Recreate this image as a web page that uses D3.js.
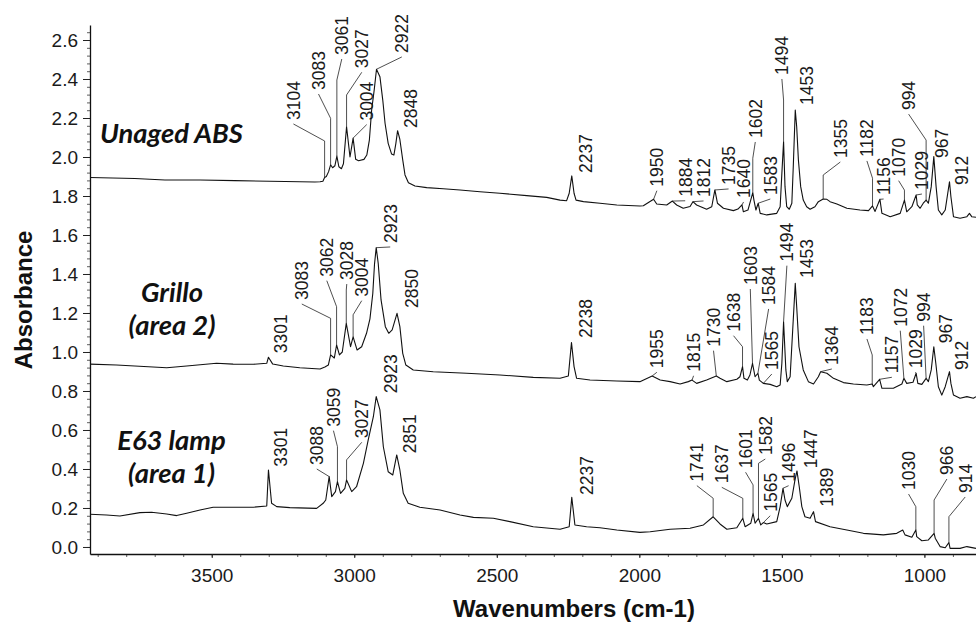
<!DOCTYPE html>
<html><head><meta charset="utf-8">
<script src="https://cdn.jsdelivr.net/npm/d3@7"></script>
<style>
html,body{margin:0;padding:0;background:#fff;}
svg{display:block;}
</style></head><body>
<svg id="chart" width="976" height="626"></svg>
<script>
// ---- Axis ticks ----
const wavenumberTicks = [3500, 3000, 2500, 2000, 1500, 1000];
const absorbanceTicks = [0.0, 0.2, 0.4, 0.6, 0.8, 1.0, 1.2, 1.4, 1.6, 1.8, 2.0, 2.2, 2.4, 2.6];

// ---- Spectra: [wavenumber (cm-1), absorbance] ----
const unagedABS = [[3927,1.895],[3770,1.890],[3664,1.882],[3541,1.882],[3419,1.879],[3243,1.874],[3138,1.872],[3120,1.873],[3110,1.876],[3104,1.895],[3098,1.900],[3090,1.925],[3083,1.960],[3076,1.945],[3068,1.955],[3061,2.005],[3054,1.950],[3045,1.940],[3038,1.965],[3027,2.155],[3015,2.000],[3004,2.097],[2995,1.988],[2985,1.981],[2966,1.988],[2956,2.010],[2947,2.087],[2939,2.241],[2930,2.344],[2922,2.450],[2910,2.412],[2900,2.292],[2892,2.173],[2881,2.070],[2869,2.015],[2861,2.010],[2854,2.070],[2848,2.135],[2840,2.090],[2830,1.985],[2822,1.908],[2810,1.868],[2787,1.851],[2746,1.843],[2688,1.837],[2629,1.831],[2559,1.822],[2489,1.814],[2395,1.802],[2325,1.793],[2278,1.779],[2255,1.776],[2246,1.814],[2237,1.903],[2229,1.814],[2222,1.779],[2196,1.771],[2138,1.763],[2079,1.754],[1998,1.749],[1986,1.750],[1950,1.783],[1939,1.759],[1904,1.754],[1884,1.774],[1869,1.754],[1846,1.737],[1822,1.746],[1812,1.771],[1799,1.754],[1764,1.732],[1746,1.745],[1735,1.831],[1726,1.763],[1705,1.737],[1670,1.725],[1654,1.733],[1640,1.754],[1635,1.719],[1619,1.728],[1602,1.817],[1598,1.779],[1591,1.728],[1583,1.763],[1576,1.711],[1553,1.703],[1518,1.711],[1506,1.745],[1500,1.916],[1494,2.078],[1489,1.848],[1483,1.745],[1474,1.732],[1465,1.763],[1460,1.950],[1453,2.241],[1448,2.155],[1442,1.985],[1434,1.848],[1425,1.779],[1413,1.745],[1401,1.732],[1384,1.745],[1372,1.771],[1355,1.785],[1342,1.783],[1331,1.771],[1307,1.759],[1272,1.737],[1226,1.728],[1196,1.725],[1182,1.749],[1173,1.721],[1156,1.783],[1149,1.711],[1120,1.694],[1085,1.711],[1070,1.779],[1062,1.719],[1044,1.745],[1029,1.805],[1025,1.754],[1015,1.737],[1004,1.763],[994,1.779],[986,1.763],[976,1.848],[967,2.002],[959,1.848],[951,1.728],[939,1.703],[927,1.728],[912,1.873],[907,1.796],[898,1.694],[875,1.686],[851,1.694],[842,1.711],[834,1.694],[819,1.691]];

const grilloArea2 = [[3927,0.938],[3834,0.933],[3658,0.919],[3588,0.928],[3483,0.942],[3425,0.938],[3354,0.937],[3307,0.942],[3301,0.973],[3286,0.938],[3249,0.928],[3191,0.919],[3120,0.913],[3103,0.923],[3091,0.933],[3083,0.985],[3070,0.969],[3062,1.036],[3052,0.985],[3042,1.000],[3028,1.147],[3013,1.027],[3004,1.078],[2990,1.010],[2974,1.027],[2957,1.096],[2945,1.170],[2935,1.300],[2929,1.450],[2923,1.535],[2916,1.455],[2906,1.267],[2891,1.130],[2879,1.096],[2867,1.113],[2850,1.198],[2840,1.130],[2830,0.993],[2819,0.933],[2793,0.908],[2723,0.899],[2606,0.891],[2489,0.882],[2372,0.870],[2278,0.865],[2249,0.877],[2238,1.048],[2229,0.925],[2220,0.865],[2173,0.856],[2079,0.851],[1998,0.848],[1955,0.877],[1927,0.856],[1892,0.848],[1857,0.836],[1828,0.848],[1815,0.856],[1799,0.839],[1764,0.856],[1730,0.877],[1717,0.865],[1693,0.848],[1658,0.860],[1647,0.873],[1638,0.925],[1633,0.865],[1621,0.856],[1612,0.882],[1603,0.942],[1594,0.873],[1584,0.891],[1579,0.856],[1565,0.839],[1541,0.834],[1518,0.822],[1506,0.831],[1500,0.942],[1494,1.155],[1486,0.908],[1481,0.848],[1471,0.873],[1462,1.113],[1453,1.352],[1448,1.232],[1440,1.027],[1425,0.908],[1407,0.848],[1389,0.836],[1372,0.873],[1364,0.899],[1342,0.891],[1319,0.865],[1284,0.843],[1249,0.836],[1202,0.831],[1183,0.836],[1179,0.822],[1157,0.860],[1149,0.814],[1109,0.814],[1079,0.836],[1072,0.865],[1062,0.839],[1040,0.845],[1029,0.891],[1023,0.839],[1009,0.834],[994,0.865],[986,0.848],[976,0.908],[967,1.027],[960,0.942],[951,0.822],[939,0.779],[927,0.822],[912,0.899],[907,0.839],[898,0.779],[875,0.763],[851,0.771],[828,0.763],[819,0.771]];

const e63LampArea1 = [[3927,0.168],[3869,0.164],[3822,0.159],[3752,0.176],[3711,0.178],[3658,0.169],[3623,0.161],[3588,0.173],[3541,0.190],[3495,0.204],[3425,0.204],[3354,0.204],[3307,0.210],[3301,0.395],[3290,0.224],[3272,0.207],[3226,0.202],[3132,0.198],[3109,0.224],[3100,0.241],[3088,0.361],[3079,0.258],[3066,0.284],[3059,0.335],[3048,0.275],[3033,0.301],[3027,0.344],[3009,0.284],[2992,0.309],[2968,0.429],[2951,0.549],[2933,0.668],[2923,0.771],[2910,0.703],[2898,0.514],[2881,0.386],[2865,0.369],[2851,0.472],[2840,0.395],[2828,0.275],[2811,0.224],[2770,0.204],[2699,0.190],[2629,0.164],[2582,0.152],[2512,0.147],[2454,0.130],[2372,0.104],[2278,0.091],[2246,0.104],[2237,0.255],[2226,0.113],[2185,0.104],[2138,0.099],[2079,0.087],[1998,0.075],[1962,0.078],[1892,0.091],[1822,0.096],[1775,0.113],[1741,0.155],[1717,0.118],[1693,0.091],[1658,0.099],[1637,0.147],[1629,0.104],[1609,0.122],[1601,0.173],[1594,0.122],[1582,0.147],[1574,0.113],[1565,0.125],[1553,0.118],[1518,0.130],[1506,0.207],[1496,0.301],[1489,0.241],[1481,0.207],[1465,0.250],[1454,0.344],[1447,0.390],[1439,0.309],[1430,0.207],[1419,0.155],[1401,0.147],[1389,0.181],[1382,0.130],[1331,0.104],[1272,0.087],[1214,0.070],[1144,0.062],[1097,0.070],[1076,0.087],[1068,0.062],[1044,0.050],[1030,0.087],[1027,0.053],[1009,0.032],[986,0.036],[966,0.070],[962,0.045],[945,0.002],[927,-0.004],[914,0.022],[910,-0.007],[875,-0.007],[851,0.002],[819,-0.007]];

// ---- Labelled peak positions (cm-1) ----
const unagedPeaks = [3104,3083,3061,3027,3004,2922,2848,2237,1950,1884,1812,1735,1640,1602,1583,1494,1453,1355,1182,1156,1070,1029,994,967,912];
const grilloPeaks = [3301,3083,3062,3028,3004,2923,2850,2238,1955,1815,1730,1638,1603,1584,1565,1494,1453,1364,1183,1157,1072,1029,994,967,912];
const e63Peaks = [3301,3088,3059,3027,2923,2851,2237,1741,1637,1601,1582,1565,1496,1447,1389,1030,966,914];

const sampleNames = [["Unaged ABS"], ["Grillo", "(area 2)"], ["E63 lamp", "(area 1)"]];

// ---- Peak-label layout: [text dx, text dy, leader kind, elbow dy] in px from the peak ----
// leader kind: 'e' = via elbow above the peak, 'd' = straight to the peak, 'n' = no leader
const unagedLabelLayout = [[-24.7,-57.5,'e',-36.5],[-5.6,-74.8,'e',-46.5],[11.4,-101,'e',-76],[21.7,-58.5,'e',-31.8],[20.1,-17.5,'d'],[31.8,-16.3,'d'],[19.7,-2.7,'n'],[19.9,-3,'n'],[9.8,-12.6,'d'],[19.3,-4.3,'d'],[17.1,-4.7,'d'],[20.2,-5,'d'],[8.1,-7,'d'],[9,-54.7,'e',-34.4],[18.6,-8.2,'d'],[4.8,-66.8,'e',-41.8],[18.1,-5,'n'],[23.6,-40.9,'e',-23.9],[0.9,-49,'e',-27.7],[10.2,-4.3,'d'],[0.7,-23.4,'e',-10],[12.3,-5,'d'],[-11,-90,'e',-60],[14.6,1.4,'n'],[18.9,3.2,'n']];
const grilloLabelLayout = [[18.8,-4,'n'],[-22.3,-54.9,'e',-36.6],[-3.3,-68.3,'e',-38.3],[7,-43.3,'e',-33.3],[15.1,-40.1,'e',-22],[20.5,-4.7,'d'],[21.3,-5.4,'n'],[20.2,-4.6,'n'],[11.2,-7.7,'d'],[8,-8.3,'d'],[3.7,-29.3,'d'],[-2.5,-34.9,'e',-19.9],[4.3,-78.3,'d'],[17.2,-68.3,'d'],[15,-13.4,'d'],[9.8,-60.1,'d'],[18.1,-5.4,'n'],[17.7,-6.7,'d'],[1.2,-49,'e',-29],[18.7,-6,'d'],[2.9,-51.6,'d'],[5.7,-5,'d'],[4,-56.6,'d'],[18,-3.4,'n'],[18.9,-1.7,'n']];
const e63LabelLayout = [[18.2,-3.3,'n'],[-5.9,-11.6,'d'],[2.5,-55,'e',-35],[21.7,-41.6,'e',-20],[20.5,-3.4,'n'],[19.4,-1.7,'n'],[21.5,-2.3,'n'],[-9.8,-35.1,'e',-18.5],[-14.5,-35,'e',-20],[-1,-45,'e',-28.3],[13.3,-63.3,'e',-55],[13.4,-10.9,'d'],[12.1,-6.6,'d'],[19.8,-2.7,'n'],[19.9,-5,'n'],[-0.8,-40,'e',-23.3],[19.3,-58.3,'e',-33.3],[22.8,-49.7,'e',-26]];

// sample-name placement: centre x and text baselines
const sampleNameLayout = [{cx:171.5, base:[143]}, {cx:172, base:[302,335]}, {cx:171.5, base:[450,483]}];

// ---- Drawing ----
const W = 976, H = 626;
const svg = d3.select('#chart');
const x = d3.scaleLinear().domain([3927, 819]).range([90, 976]);
const y = d3.scaleLinear().domain([-0.036, 2.677]).range([554, 25]);

const tickFont = "'Liberation Sans', Arial, sans-serif";

// y axis: minor then major ticks
const yMinor = d3.range(0, 2.66, 0.04);
svg.append('g').attr('transform','translate(90,0)')
  .call(d3.axisLeft(y).tickValues(yMinor).tickSize(3).tickFormat('').tickSizeOuter(0))
  .call(g => g.select('.domain').remove())
  .selectAll('line').attr('stroke','#333').attr('stroke-width',0.8);
const yAxis = svg.append('g').attr('transform','translate(90,0)')
  .call(d3.axisLeft(y).tickValues(absorbanceTicks).tickFormat(d3.format('.1f')).tickSize(7).tickPadding(5).tickSizeOuter(0));
yAxis.select('.domain').attr('stroke','#111').attr('stroke-width',1.3);
yAxis.selectAll('line').attr('stroke','#222').attr('stroke-width',1);
yAxis.selectAll('text').attr('font-family',tickFont).attr('font-size',19).attr('fill','#1a1a1a');

// x axis
const xMinor = d3.range(900, 3901, 100);
svg.append('g').attr('transform','translate(0,554)')
  .call(d3.axisBottom(x).tickValues(xMinor).tickSize(3).tickFormat('').tickSizeOuter(0))
  .call(g => g.select('.domain').remove())
  .selectAll('line').attr('stroke','#333').attr('stroke-width',0.8);
const xAxis = svg.append('g').attr('transform','translate(0,554)')
  .call(d3.axisBottom(x).tickValues(wavenumberTicks).tickFormat(d3.format('d')).tickSize(4).tickPadding(10.5).tickSizeOuter(0));
xAxis.select('.domain').attr('stroke','#111').attr('stroke-width',1.3);
xAxis.selectAll('line').attr('stroke','#222');
xAxis.selectAll('text').attr('font-family',tickFont).attr('font-size',19).attr('fill','#1a1a1a');

// axis titles
svg.append('text').attr('x',574).attr('y',617).attr('text-anchor','middle')
  .attr('font-family',tickFont).attr('font-weight','bold').attr('font-size',24).attr('fill','#111')
  .text('Wavenumbers (cm-1)');
svg.append('text').attr('transform','translate(32,300) rotate(-90)').attr('text-anchor','middle')
  .attr('font-family',tickFont).attr('font-weight','bold').attr('font-size',24).attr('fill','#111')
  .text('Absorbance');

// spectra
svg.append('clipPath').attr('id','plotclip').append('rect')
  .attr('x',90).attr('y',0).attr('width',W-90).attr('height',555);
const line = d3.line().x(d => x(d[0])).y(d => y(d[1]));
const spectra = [unagedABS, grilloArea2, e63LampArea1];
svg.append('g').attr('clip-path','url(#plotclip)')
  .selectAll('path').data(spectra).join('path')
  .attr('d', line).attr('fill','none').attr('stroke','#111').attr('stroke-width',1.1)
  .attr('stroke-linejoin','round');

// peak labels with leaders
const peakSets = [
  {data: unagedABS, peaks: unagedPeaks, layout: unagedLabelLayout},
  {data: grilloArea2, peaks: grilloPeaks, layout: grilloLabelLayout},
  {data: e63LampArea1, peaks: e63Peaks, layout: e63LabelLayout}
];
const labelSize = 17.5;
const gLab = svg.append('g');
peakSets.forEach(set => {
  const byWn = new Map(set.data.map(d => [d[0], d[1]]));
  set.peaks.forEach((wn, i) => {
    const [tx, ty, kind, ey] = set.layout[i];
    const px = x(wn), py = y(byWn.get(wn));
    const bx = px + tx, by = py + ty;
    gLab.append('text')
      .attr('transform', `translate(${bx},${by}) rotate(-90)`)
      .attr('font-family', tickFont).attr('font-size', labelSize).attr('fill','#1a1a1a')
      .text(wn);
    if (kind === 'n') return;
    const start = [bx - 6.5, by + 4];
    const pts = kind === 'e' ? [start, [px, py + ey], [px, py]] : [start, [px, py]];
    gLab.append('path').attr('d', d3.line()(pts))
      .attr('fill','none').attr('stroke','#222').attr('stroke-width',0.8);
  });
});

// sample names
const nameFont = "Lato, 'Open Sans', sans-serif";
const probe = svg.append('text').attr('font-family',nameFont).attr('font-weight','bold')
  .attr('font-style','italic').attr('font-size',20).text(sampleNames[0][0]);
const nameSize = 20 * 143 / probe.node().getComputedTextLength();
probe.remove();
sampleNames.forEach((lines, i) => {
  lines.forEach((t, j) => {
    svg.append('text').attr('x', sampleNameLayout[i].cx).attr('y', sampleNameLayout[i].base[j])
      .attr('text-anchor','middle').attr('font-family',nameFont).attr('font-weight','bold')
      .attr('font-style','italic').attr('font-size',nameSize).attr('fill','#111').text(t);
  });
});
</script>
</body></html>
